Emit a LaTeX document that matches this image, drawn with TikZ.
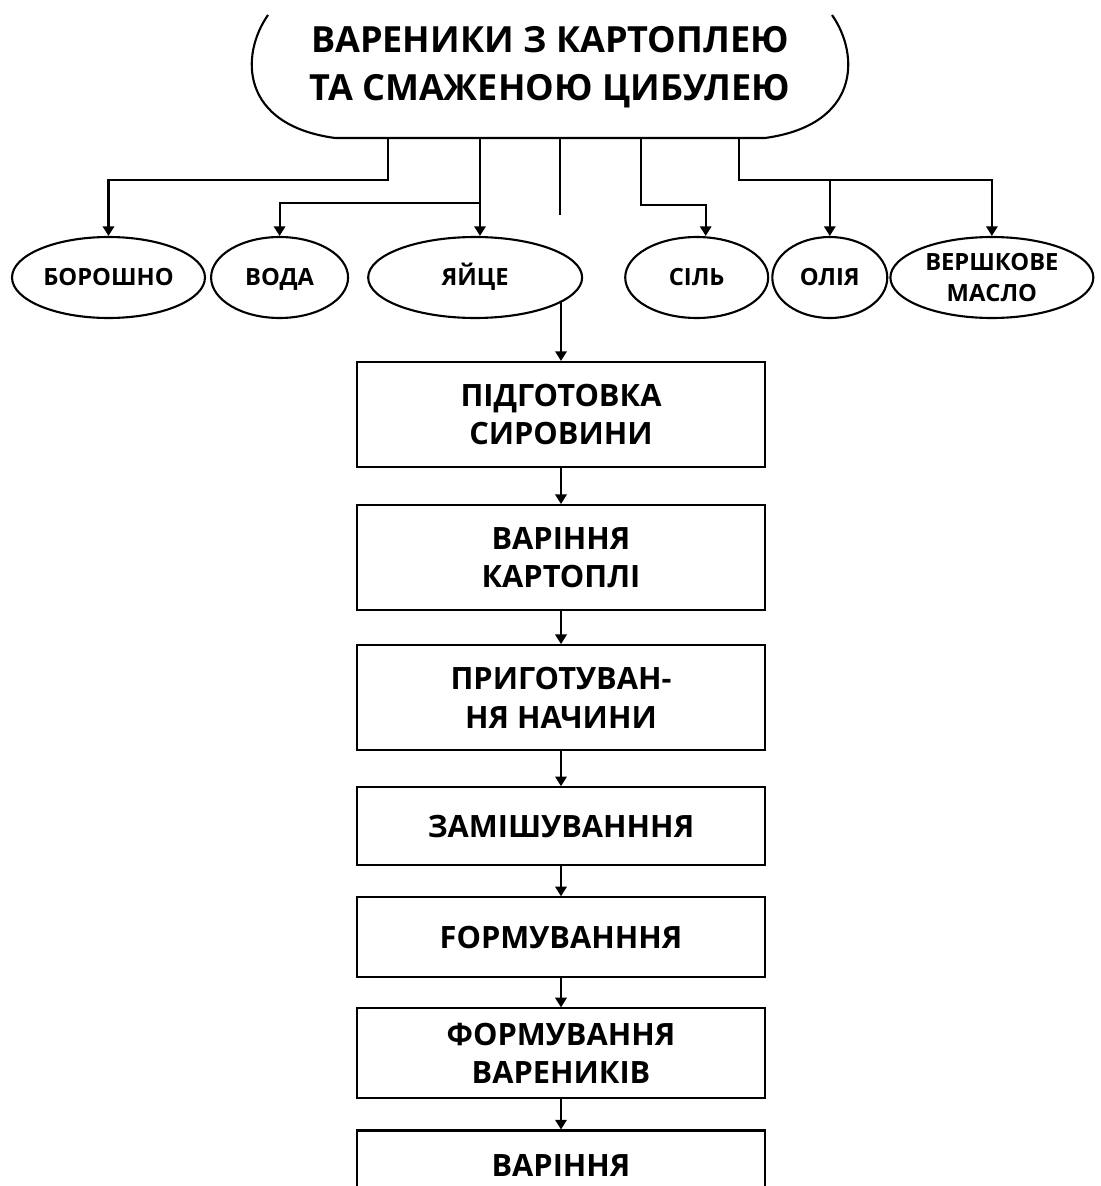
\documentclass[tikz,border=0pt]{standalone}
\usepackage{fontspec}
\setmainfont{Open Sans}
\usetikzlibrary{shapes.geometric, positioning, arrows.meta}

\begin{document}
\begin{tikzpicture}[x=0.02cm, y=-0.02cm, line width=1.2pt,
        arr/.style={-{Triangle[length=5.5pt, width=6.5pt]}},
        ingr/.style={ellipse, draw, inner sep=0pt, minimum height=1.62cm, align=center,
            font=\fontsize{13.5}{17.6}\selectfont\bfseries},
        word/.style={text height=9.6pt, text depth=0pt},
        stage/.style={rectangle, draw, minimum width=8.16cm, minimum height=2.1cm, align=center,
            font=\fontsize{17.5}{22}\selectfont\bfseries}]
    \useasboundingbox (0,0) rectangle (1100,1186);

    \node[minimum width=11.8cm, minimum height=2.84cm, outer sep=0pt, align=center,
        font=\fontsize{20.5}{27}\selectfont\bfseries] (title) at (550,67)
        {ВАРЕНИКИ З КАРТОПЛЕЮ\\ТА СМАЖЕНОЮ ЦИБУЛЕЮ};
    \draw (268,15) .. controls (240,55) and (240,125) .. (335,138) -- (765,138)
        .. controls (860,125) and (860,55) .. (832,15);

    \node[ingr, word, minimum width=3.86cm] (bor) at (108.5,277.5) {БОРОШНО};
    \node[ingr, word, minimum width=2.74cm, right=0.08cm of bor] (voda) {ВОДА};
    \node[ingr, word, minimum width=4.28cm, right=0.36cm of voda] (yaj) {ЯЙЦЕ};
    \node[ingr, word, minimum width=2.86cm, right=0.82cm of yaj] (sil) {СІЛЬ};
    \node[ingr, word, minimum width=2.3cm, right=0.04cm of sil] (olia) {ОЛІЯ};
    \node[ingr, minimum width=4.06cm, right=0.02cm of olia] (masl) {ВЕРШКОВЕ\\МАСЛО};

    \coordinate (jA) at (388,180);
    \coordinate (jB) at (480,203);
    \coordinate (jC) at (560,215);
    \coordinate (jD) at (641,205);
    \coordinate (jE) at (739,180);

    \draw[arr] (title.south -| jA) -- (jA) -| (bor.north);
    \draw[arr] (title.south -| jB) -- (jB |- yaj.north);
    \draw[arr] (jB) -| (voda.north);
    \draw (title.south -| jC) -- (jC);
    \draw[arr] (title.south -| jD) -- (jD) -| ([xshift=0.18cm]sil.north);
    \draw[arr] (title.south -| jE) -- (jE) -| (masl.north);
    \draw[arr] (jE -| olia.north) -- (olia.north);

    \node[stage] (p1) at (561,414.5) {ПІДГОТОВКА\\СИРОВИНИ};
    \node[stage, below=0.72cm of p1] (p2) {ВАРІННЯ\\КАРТОПЛІ};
    \node[stage, below=0.66cm of p2] (p3) {ПРИГОТУВАН-\\НЯ НАЧИНИ};
    \node[stage, below=0.7cm of p3, minimum height=1.56cm] (p4) {ЗАМІШУВАНННЯ};
    \node[stage, below=0.6cm of p4, minimum height=1.6cm] (p5) {FОРМУВАНННЯ};
    \node[stage, below=0.58cm of p5, minimum height=1.8cm] (p6) {ФОРМУВАННЯ\\ВАРЕНИКІВ};
    \node[stage, below=0.6cm of p6, minimum height=1.4cm] (p7) {ВАРІННЯ};

    \draw[arr] (p1.north |- yaj.344) -- (p1.north);
    \foreach \i/\j in {p1/p2, p2/p3, p3/p4, p4/p5, p5/p6, p6/p7}
        \draw[arr] (\i) -- (\j);
\end{tikzpicture}
\end{document}
